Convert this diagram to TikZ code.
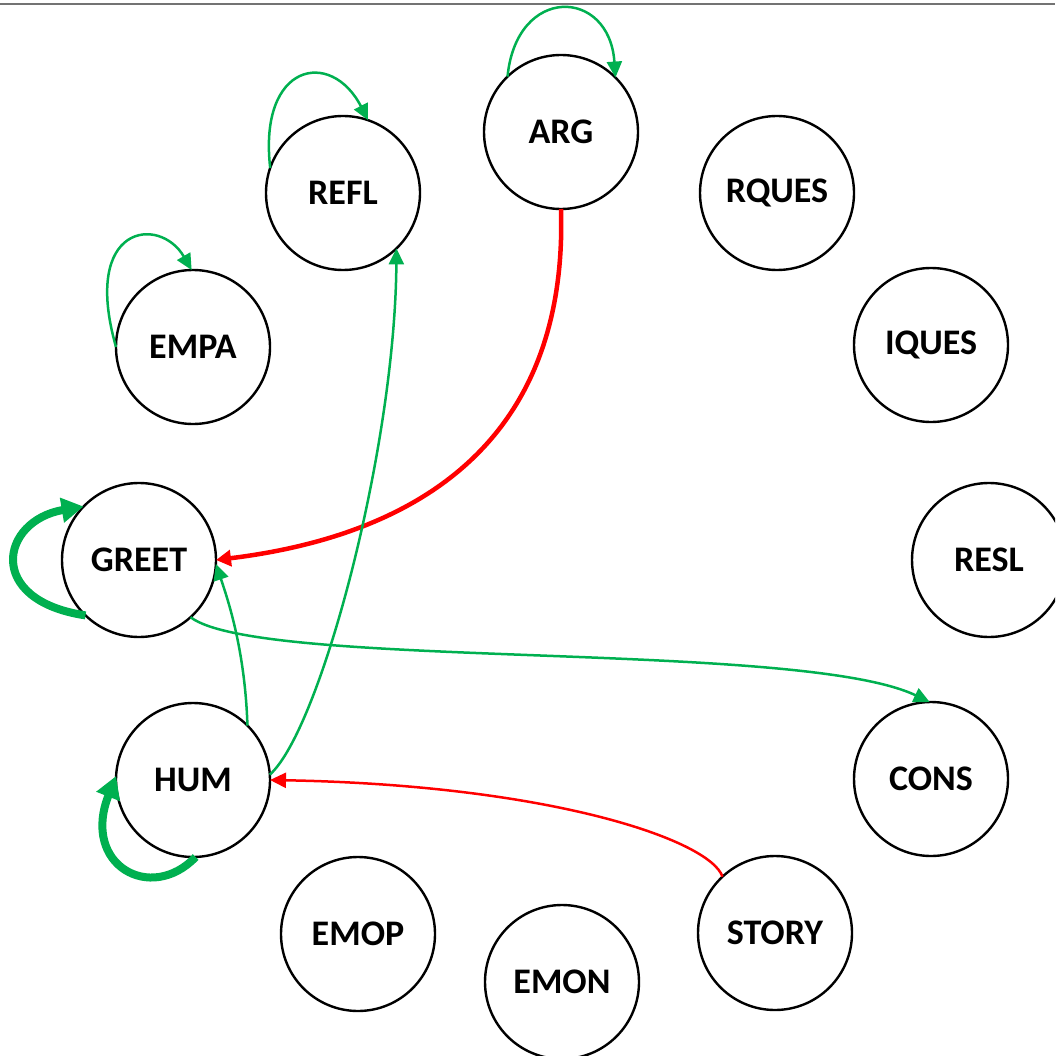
\documentclass[tikz,border=0pt]{standalone}
\usepackage{fontspec}
\setmainfont{Carlito}
\usetikzlibrary{arrows.meta}
\definecolor{grn}{HTML}{00B050}
\definecolor{rd}{HTML}{FF0000}
\begin{document}
\begin{tikzpicture}[x=1pt,y=-1pt,
  state/.style={draw=black,line width=2.4pt,circle,minimum size=154pt,inner sep=0pt,outer sep=0pt,
    font=\fontsize{36}{36}\selectfont\bfseries},
  gthin/.style={draw=grn,line width=2.5pt,-{Triangle[length=16pt,width=15pt]}},
  gthick/.style={draw=grn,line width=8pt,-{Triangle[length=22pt,width=24pt]}},
  rthin/.style={draw=rd,line width=2.5pt,-{Triangle[length=16pt,width=15pt]}},
  rthick/.style={draw=rd,line width=4.5pt,-{Triangle[length=15pt,width=16pt]}}]
\useasboundingbox (0,0) rectangle (1055,1056);
\clip (0,0) rectangle (1055,1056);
\draw[gray!90!black,line width=2pt] (0,4) -- (1055,4);
\node[state] (ARG) at (561,132) {ARG};
\node[state] (REFL) at (343,193) {REFL};
\node[state] (RQUES) at (777,193) {RQUES};
\node[state] (EMPA) at (193,347) {EMPA};
\node[state] (IQUES) at (931,345) {IQUES};
\node[state] (GREET) at (139,560) {GREET};
\node[state] (RESL) at (989,560) {RESL};
\node[state] (HUM) at (193,780) {HUM};
\node[state] (CONS) at (931,779) {CONS};
\node[state] (EMOP) at (358,934) {EMOP};
\node[state] (EMON) at (562,982) {EMON};
\node[state] (STORY) at (775,933) {STORY};
% self loops
\draw[gthin] (ARG.134) .. controls +(9,-92) and +(-6,-90) .. (ARG.45);
\draw[gthin] (REFL.161) .. controls +(-12,-105) and +(-37,-72) .. (REFL.71);
\draw[gthin] (EMPA.180) .. controls +(-35,-123) and +(-32,-55) .. (EMPA.91);
\draw[gthick] (GREET.226) .. controls +(-101,-15) and +(-83,14) .. (GREET.136);
\draw[gthick] (HUM.272) .. controls +(-45,47) and +(-35,89) .. (HUM.177);
% connectors
\draw[rthick] (ARG.270) .. controls (568,440) and (420,535) .. (GREET.0);
\draw[gthin] (HUM.4) .. controls (320,730) and (395,450) .. (REFL.314);
\draw[gthin] (HUM.45) .. controls (245,650) and (228,600) .. (GREET.357);
\draw[gthin] (GREET.312) .. controls (260,670) and (800,640) .. (CONS.91);
\draw[rthin] (STORY.133) .. controls (710,840) and (550,785) .. (HUM.0);
\end{tikzpicture}
\end{document}
